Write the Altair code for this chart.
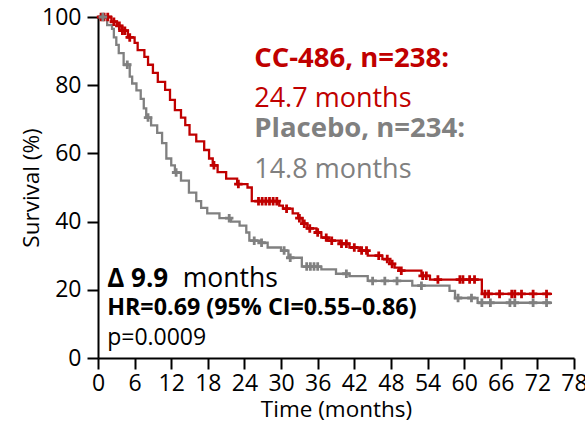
import altair as alt
import numpy as np
import pandas as pd

# Kaplan-Meier step estimates (time in months, survival in %)
cc486_time = [0, 2.2, 3.1, 3.9, 4.9, 6.0, 6.5, 7.6, 8.2, 9.0, 9.8, 11.0, 11.8, 12.6, 13.6,
              14.3, 15.0, 16.1, 17.4, 18.2, 18.8, 19.6, 21.0, 22.8, 24.5, 25.2, 29.7, 30.3,
              31.9, 32.8, 33.5, 34.3, 35.8, 36.6, 37.6, 39.6, 41.2, 42.9, 44.2, 46.6, 47.8,
              48.6, 49.3, 53.0, 54.4, 62.9, 74.4]
cc486_surv = [100, 98.6, 97.4, 96, 94, 92.4, 90.3, 88.3, 86, 83.6, 81, 78.6, 75.7, 72.7, 70.5,
              68.3, 65.5, 63.5, 61, 58.5, 56.5, 54.5, 52.6, 51, 50, 46, 44.7, 43.8,
              42.4, 41, 39.4, 38, 36.8, 35.3, 34.4, 33.5, 32.4, 31.5, 30, 29, 27.6,
              26.5, 25.6, 24.1, 23, 18.8, 18.8]

placebo_time = [0, 1.5, 2.3, 2.6, 3.0, 3.4, 4.2, 5.2, 5.6, 6.3, 7.0, 7.5, 7.9, 8.7, 9.7, 10.5,
                11.2, 12.0, 12.6, 13.6, 14.9, 16.1, 16.9, 17.9, 19.9, 21.8, 23.2, 24.3, 24.8,
                26.5, 27.8, 30.0, 31.2, 33.4, 36.6, 39.0, 41.2, 44.2, 51.5, 57.6, 58.5, 62.2,
                74.4]
placebo_surv = [100, 97.6, 96.5, 94, 91.8, 89.4, 86, 82.5, 80.5, 78.5, 76, 73.2, 70.5, 68.2, 66, 63,
                58.5, 56.5, 54.4, 52, 48.5, 46, 44, 42.4, 41, 40, 38.8, 36.8, 34.4,
                33.8, 32.4, 31.5, 29.4, 26.8, 26, 24.7, 24, 22.6, 21.2, 19.7, 17.6, 16.2,
                16.2]

# Censoring times
cc486_cens = [0.5, 1.0, 1.6, 2.6, 3.5, 4.0, 4.4, 5.2, 19.0, 23.0, 26.3, 26.9, 27.5, 28.1, 28.7,
              29.3, 30.9, 33.0, 33.8, 34.7, 36.0, 37.4, 38.3, 39.9, 40.7, 42.0, 43.2, 44.0,
              46.0, 47.4, 48.2, 49.7, 53.2, 53.8, 55.7, 59.3, 59.8, 60.9, 61.7, 63.4, 64.0,
              65.8, 67.8, 68.3, 69.4, 71.3, 73.5]
placebo_cens = [0.8, 4.8, 8.2, 12.8, 21.5, 25.6, 26.8, 30.5, 31.5, 34.2, 34.8, 35.4, 36.0,
                40.7, 45.0, 47.0, 49.0, 53.0, 59.0, 61.2, 62.9, 64.3, 67.5, 68.3, 71.3, 73.5]

arms = ["CC-486", "Placebo"]
arm_colors = ["#C00000", "#808080"]
x_ticks = list(range(0, 79, 6))
y_ticks = [0, 20, 40, 60, 80, 100]

FONT = "Open Sans"


def step_value(times, surv, t):
    i = np.searchsorted(times, t, side="right") - 1
    return surv[i]


curves = pd.concat([
    pd.DataFrame({"time": cc486_time, "surv": cc486_surv, "arm": arms[0]}),
    pd.DataFrame({"time": placebo_time, "surv": placebo_surv, "arm": arms[1]}),
])
censors = pd.concat([
    pd.DataFrame({"time": cc486_cens,
                  "surv": [step_value(cc486_time, cc486_surv, t) for t in cc486_cens],
                  "arm": arms[0]}),
    pd.DataFrame({"time": placebo_cens,
                  "surv": [step_value(placebo_time, placebo_surv, t) for t in placebo_cens],
                  "arm": arms[1]}),
])

x_scale = alt.Scale(domain=[0, 78], nice=False)
y_scale = alt.Scale(domain=[0, 100], nice=False)
arm_scale = alt.Scale(domain=arms, range=arm_colors)

x_axis = alt.Axis(values=x_ticks, format="d", labelOverlap=False, labelFlush=False,
                  title="Time (months)")
y_axis = alt.Axis(values=y_ticks, format="d", labelOverlap=False, title="Survival (%)")
x_enc = alt.X("time:Q", scale=x_scale, axis=x_axis)
y_enc = alt.Y("surv:Q", scale=y_scale, axis=y_axis)

lines = alt.Chart(curves).mark_line(interpolate="step-after", strokeWidth=2.3).encode(
    x=x_enc, y=y_enc, color=alt.Color("arm:N", scale=arm_scale, legend=None), detail="arm:N"
)

ticks = alt.Chart(censors).mark_point(
    shape="M-1,0L1,0M0,-1L0,1", filled=False, size=72, strokeWidth=2.8, opacity=1
).encode(x=x_enc, y=y_enc, stroke=alt.Stroke("arm:N", scale=arm_scale, legend=None))


def label(text, x, y, size, weight="normal", col="black"):
    return alt.Chart(pd.DataFrame({"time": [x], "surv": [y]})).mark_text(
        text=text, align="left", baseline="alphabetic", font=FONT,
        fontSize=size, fontWeight=weight, color=col
    ).encode(x=x_enc, y=y_enc)


notes = [
    label("CC-486, n=238:", 25.6, 85.3, 27.5, "bold", arm_colors[0]),
    label("24.7 months", 25.6, 73.6, 27, "normal", arm_colors[0]),
    label("Placebo, n=234:", 25.6, 64.8, 27.5, "bold", arm_colors[1]),
    label("14.8 months", 25.6, 52.8, 27, "normal", arm_colors[1]),
    label("Δ 9.9", 1.5, 20.8, 26, "bold"),
    label("months", 13.9, 20.8, 26.5, "normal"),
    label("HR=0.69 (95% CI=0.55–0.86)", 1.5, 12.6, 23.3, "bold"),
    label("p=0.0009", 1.5, 3.8, 23, "normal"),
]

chart = alt.layer(lines, ticks, *notes).properties(
    width=476, height=341,
    autosize=alt.AutoSizeParams(type="none"),
    padding={"left": 98, "top": 17, "right": 11, "bottom": 68},
).configure_view(stroke=None).configure_axis(
    grid=False, domainColor="black", domainWidth=2, tickColor="black", tickWidth=2,
    tickSize=11, labelFont=FONT, labelFontSize=23, labelColor="black",
    titleFont=FONT, titleFontSize=22.5, titleFontWeight="normal", titleColor="black",
).configure_axisX(labelPadding=3, titlePadding=3).configure_axisY(
    labelPadding=6, titlePadding=-2
)

chart.save("out.html", embed_options={"renderer": "svg", "actions": False})
